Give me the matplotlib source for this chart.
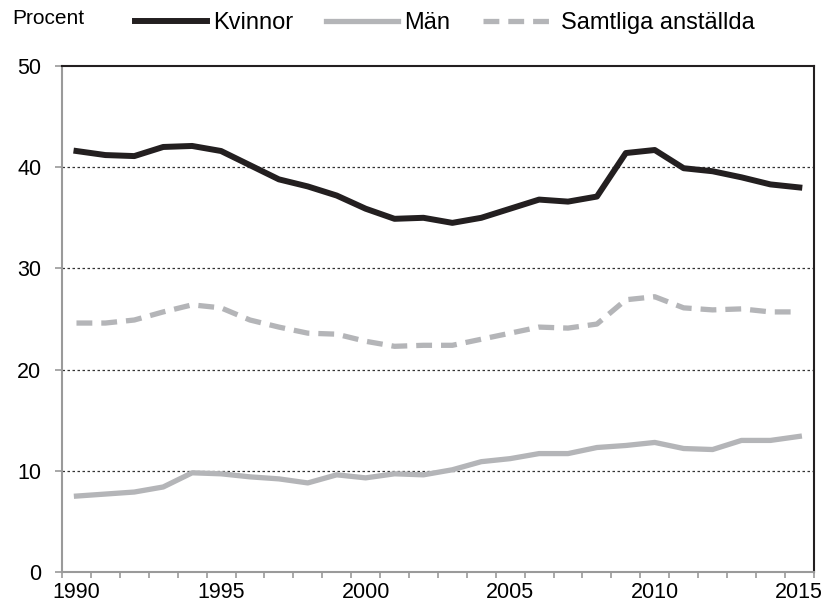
import matplotlib
matplotlib.use("Agg")
import matplotlib.pyplot as plt
from matplotlib.ticker import FixedLocator

plt.rcParams['font.family'] = ['Liberation Sans', 'DejaVu Sans']

years = list(range(1990, 2016))
kvinnor = [41.6, 41.2, 41.1, 42.0, 42.1, 41.6, 40.2, 38.8, 38.1, 37.2,
           35.9, 34.9, 35.0, 34.5, 35.0, 35.9, 36.8, 36.6, 37.1, 41.4,
           41.7, 39.9, 39.6, 39.0, 38.3, 38.0]
man = [7.5, 7.7, 7.9, 8.4, 9.8, 9.7, 9.4, 9.2, 8.8, 9.6,
       9.3, 9.7, 9.6, 10.1, 10.9, 11.2, 11.7, 11.7, 12.3, 12.5,
       12.8, 12.2, 12.1, 13.0, 13.0, 13.4]
samtliga = [24.6, 24.6, 24.9, 25.7, 26.4, 26.1, 24.9, 24.2, 23.6, 23.5,
            22.8, 22.3, 22.4, 22.4, 23.0, 23.6, 24.2, 24.1, 24.5, 26.9,
            27.2, 26.1, 25.9, 26.0, 25.7, 25.7]
labels = ['Kvinnor', 'Män', 'Samtliga anställda']
year_labels = [1990, 1995, 2000, 2005, 2010, 2015]

BLACK = '#231f20'
GREY = '#b4b5b8'
AXGREY = '#9a9a9a'

fig = plt.figure(figsize=(8.27, 6.09), dpi=100)
ax = fig.add_axes([0.075, 0.0608, 0.909, 0.8308])

l1, = ax.plot(years, kvinnor, color=BLACK, lw=4.3)
l2, = ax.plot(years, man, color=GREY, lw=3.8)
l3, = ax.plot(years, samtliga, color=GREY, lw=3.8, dashes=(3.0, 1.7))

ax.set_xlim(1989.5, 2015.5)
ax.set_ylim(0, 50)
ax.set_yticks([0, 10, 20, 30, 40, 50])
ax.set_xticks(year_labels)
ax.xaxis.set_minor_locator(FixedLocator([y - 0.5 for y in years] + [2015.5]))
ax.tick_params(axis='x', which='major', length=0, pad=7, labelsize=15.5)
ax.tick_params(axis='x', which='minor', length=4, color=AXGREY, width=1.2)
ax.tick_params(axis='y', length=5, color=AXGREY, width=1.2, pad=10, labelsize=15.5)

for yv in [10, 20, 30, 40]:
    ax.axhline(yv, color='#333333', lw=0.9, ls=(0, (2, 2)), zorder=0)

ax.spines['left'].set_color(AXGREY)
ax.spines['bottom'].set_color(AXGREY)
ax.spines['left'].set_linewidth(1.5)
ax.spines['bottom'].set_linewidth(1.5)
ax.spines['top'].set_color(BLACK)
ax.spines['right'].set_color(BLACK)
ax.spines['top'].set_linewidth(1.5)
ax.spines['right'].set_linewidth(1.5)

fig.text(12 / 827, 1 - 18 / 609, 'Procent', fontsize=15, va='center', ha='left')
fig.legend([l1, l2, l3], labels, loc='center left',
           bbox_to_anchor=(135 / 827, 1 - 23 / 609), ncol=3, frameon=False,
           fontsize=17, handlelength=3.05, handletextpad=0.25,
           columnspacing=1.4, borderaxespad=0, borderpad=0)

fig.savefig('out.png', dpi=100)
